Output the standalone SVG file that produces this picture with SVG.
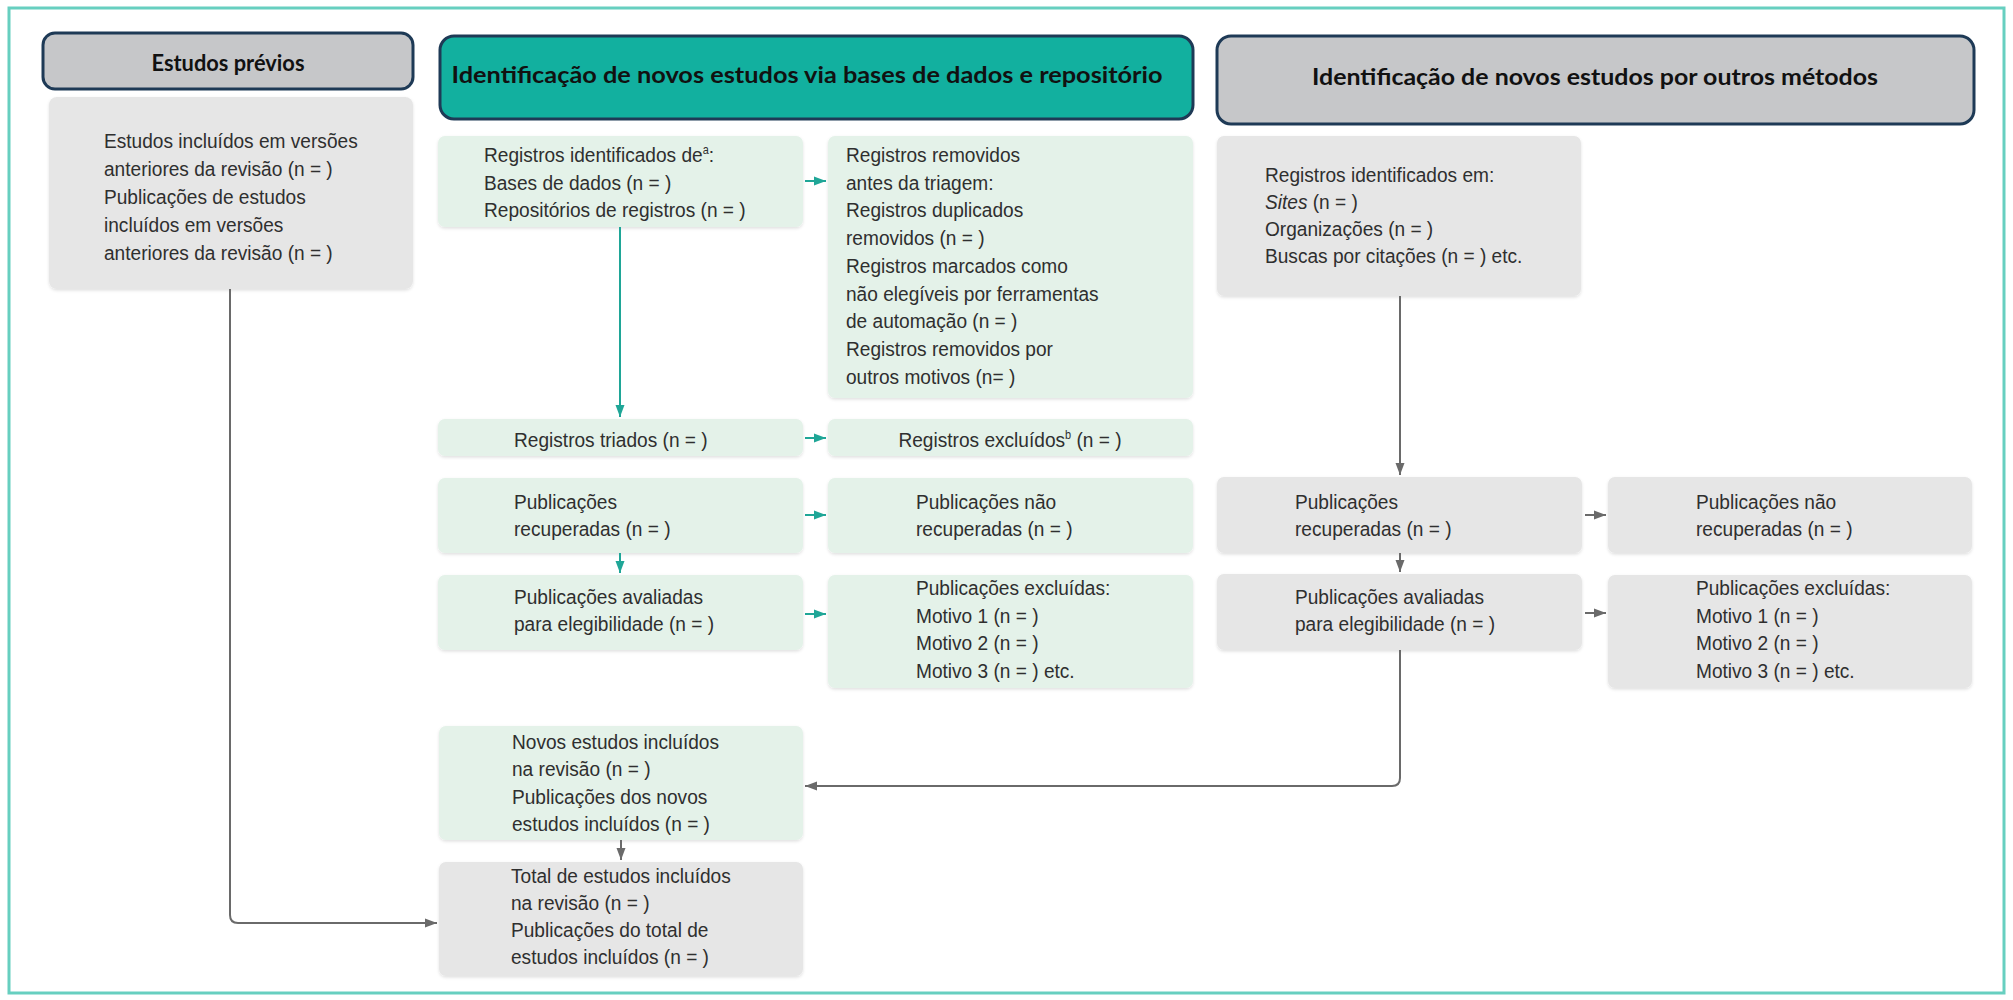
<svg xmlns="http://www.w3.org/2000/svg" width="2013" height="1000" viewBox="0 0 2013 1000">
<style>
.hd{stroke:#1e3a56;stroke-width:3}
.hg{fill:#c6c7c9}
.hc{fill:#12b09f}
.ht{font-family:Lato,"Liberation Sans",sans-serif;font-weight:700;fill:#111;text-anchor:middle}
.bg{fill:#e6e6e6}
.bm{fill:#e4f2e9}
.t{font-family:"Liberation Sans",Arial,sans-serif;font-size:21px;fill:#2f2f2f}
.sup{font-size:12px}
.ct{fill:none;stroke:#1fa697;stroke-width:2}
.cg{fill:none;stroke:#6a6a6a;stroke-width:2}
</style>
<defs>
<filter id="sh" x="-5%" y="-5%" width="110%" height="115%">
<feDropShadow dx="0" dy="1.5" stdDeviation="1.5" flood-color="#000" flood-opacity="0.12"/>
</filter>
<marker id="at" viewBox="0 0 12 10" refX="12" refY="5" markerWidth="12" markerHeight="10" markerUnits="userSpaceOnUse" orient="auto">
<path d="M0,0.5 L12,5 L0,9.5 Z" fill="#1fa697"/>
</marker>
<marker id="ag" viewBox="0 0 12 10" refX="12" refY="5" markerWidth="12" markerHeight="10" markerUnits="userSpaceOnUse" orient="auto">
<path d="M0,0.5 L12,5 L0,9.5 Z" fill="#6a6a6a"/>
</marker>
</defs>
<rect width="2013" height="1000" fill="#fff"/>
<rect x="9" y="8" width="1995" height="985" fill="none" stroke="#67cfc0" stroke-width="3"/>

<g id="header-previos">
<rect class="hd hg" x="43" y="33" width="370" height="56" rx="12"/>
<text class="ht" x="228" y="71" font-size="22" textLength="153" lengthAdjust="spacingAndGlyphs">Estudos prévios</text>
</g>
<g id="header-bases">
<rect class="hd hc" x="440" y="36" width="753" height="83" rx="14"/>
<text class="ht" x="807" y="83" font-size="23" textLength="711" lengthAdjust="spacingAndGlyphs">Identificação de novos estudos via bases de dados e repositório</text>
</g>
<g id="header-outros">
<rect class="hd hg" x="1217" y="36" width="757" height="88" rx="14"/>
<text class="ht" x="1595" y="85" font-size="23" textLength="566" lengthAdjust="spacingAndGlyphs">Identificação de novos estudos por outros métodos</text>
</g>

<g id="node-previos">
<rect class="bg" filter="url(#sh)" x="49" y="97" width="364" height="192" rx="8"/>
<text class="t" transform="translate(104,0) scale(0.91,1)"><tspan x="0" y="148">Estudos incluídos em versões</tspan><tspan x="0" y="176">anteriores da revisão (n = )</tspan><tspan x="0" y="204">Publicações de estudos</tspan><tspan x="0" y="232">incluídos em versões</tspan><tspan x="0" y="260">anteriores da revisão (n = )</tspan></text>
</g>

<g id="node-identificados">
<rect class="bm" filter="url(#sh)" x="438" y="136" width="365" height="91" rx="7"/>
<text class="t" transform="translate(484,0) scale(0.91,1)"><tspan x="0" y="162">Registros identificados de<tspan class="sup" dy="-8">a</tspan><tspan dy="8">:</tspan></tspan><tspan x="0" y="190">Bases de dados (n = )</tspan><tspan x="0" y="217">Repositórios de registros (n = )</tspan></text>
</g>
<g id="node-removidos">
<rect class="bm" filter="url(#sh)" x="828" y="136" width="365" height="262" rx="7"/>
<text class="t" transform="translate(846,0) scale(0.91,1)"><tspan x="0" y="162">Registros removidos</tspan><tspan x="0" y="190">antes da triagem:</tspan><tspan x="0" y="217">Registros duplicados</tspan><tspan x="0" y="245">removidos (n = )</tspan><tspan x="0" y="273">Registros marcados como</tspan><tspan x="0" y="301">não elegíveis por ferramentas</tspan><tspan x="0" y="328">de automação (n = )</tspan><tspan x="0" y="356">Registros removidos por</tspan><tspan x="0" y="384">outros motivos (n= )</tspan></text>
</g>
<g id="node-triados">
<rect class="bm" filter="url(#sh)" x="438" y="419" width="365" height="37" rx="7"/>
<text class="t" transform="translate(514,0) scale(0.91,1)"><tspan x="0" y="447">Registros triados (n = )</tspan></text>
</g>
<g id="node-excluidos">
<rect class="bm" filter="url(#sh)" x="828" y="419" width="365" height="37" rx="7"/>
<text class="t" text-anchor="middle" transform="translate(1010,0) scale(0.91,1)"><tspan x="0" y="447">Registros excluídos<tspan class="sup" dy="-8">b</tspan><tspan dy="8"> (n = )</tspan></tspan></text>
</g>
<g id="node-recuperadas">
<rect class="bm" filter="url(#sh)" x="438" y="478" width="365" height="75" rx="7"/>
<text class="t" transform="translate(514,0) scale(0.91,1)"><tspan x="0" y="509">Publicações</tspan><tspan x="0" y="536">recuperadas (n = )</tspan></text>
</g>
<g id="node-nao-recuperadas">
<rect class="bm" filter="url(#sh)" x="828" y="478" width="365" height="75" rx="7"/>
<text class="t" transform="translate(916,0) scale(0.91,1)"><tspan x="0" y="509">Publicações não</tspan><tspan x="0" y="536">recuperadas (n = )</tspan></text>
</g>
<g id="node-avaliadas">
<rect class="bm" filter="url(#sh)" x="438" y="575" width="365" height="75" rx="7"/>
<text class="t" transform="translate(514,0) scale(0.91,1)"><tspan x="0" y="604">Publicações avaliadas</tspan><tspan x="0" y="631">para elegibilidade (n = )</tspan></text>
</g>
<g id="node-pub-excluidas">
<rect class="bm" filter="url(#sh)" x="828" y="575" width="365" height="113" rx="7"/>
<text class="t" transform="translate(916,0) scale(0.91,1)"><tspan x="0" y="595">Publicações excluídas:</tspan><tspan x="0" y="623">Motivo 1 (n = )</tspan><tspan x="0" y="650">Motivo 2 (n = )</tspan><tspan x="0" y="678">Motivo 3 (n = ) etc.</tspan></text>
</g>
<g id="node-novos">
<rect class="bm" filter="url(#sh)" x="439" y="726" width="364" height="114" rx="7"/>
<text class="t" transform="translate(512,0) scale(0.91,1)"><tspan x="0" y="749">Novos estudos incluídos</tspan><tspan x="0" y="776">na revisão (n = )</tspan><tspan x="0" y="804">Publicações dos novos</tspan><tspan x="0" y="831">estudos incluídos (n = )</tspan></text>
</g>
<g id="node-total">
<rect class="bg" filter="url(#sh)" x="439" y="862" width="364" height="114" rx="7"/>
<text class="t" transform="translate(511,0) scale(0.91,1)"><tspan x="0" y="883">Total de estudos incluídos</tspan><tspan x="0" y="910">na revisão (n = )</tspan><tspan x="0" y="937">Publicações do total de</tspan><tspan x="0" y="964">estudos incluídos (n = )</tspan></text>
</g>

<g id="node-outros-identificados">
<rect class="bg" filter="url(#sh)" x="1217" y="136" width="364" height="160" rx="7"/>
<text class="t" transform="translate(1265,0) scale(0.91,1)"><tspan x="0" y="182">Registros identificados em:</tspan><tspan x="0" y="209"><tspan font-style="italic">Sites</tspan> (n = )</tspan><tspan x="0" y="236">Organizações (n = )</tspan><tspan x="0" y="263">Buscas por citações (n = ) etc.</tspan></text>
</g>
<g id="node-outros-recuperadas">
<rect class="bg" filter="url(#sh)" x="1217" y="477" width="365" height="76" rx="7"/>
<text class="t" transform="translate(1295,0) scale(0.91,1)"><tspan x="0" y="509">Publicações</tspan><tspan x="0" y="536">recuperadas (n = )</tspan></text>
</g>
<g id="node-outros-nao-recuperadas">
<rect class="bg" filter="url(#sh)" x="1608" y="477" width="364" height="76" rx="7"/>
<text class="t" transform="translate(1696,0) scale(0.91,1)"><tspan x="0" y="509">Publicações não</tspan><tspan x="0" y="536">recuperadas (n = )</tspan></text>
</g>
<g id="node-outros-avaliadas">
<rect class="bg" filter="url(#sh)" x="1217" y="574" width="365" height="76" rx="7"/>
<text class="t" transform="translate(1295,0) scale(0.91,1)"><tspan x="0" y="604">Publicações avaliadas</tspan><tspan x="0" y="631">para elegibilidade (n = )</tspan></text>
</g>
<g id="node-outros-excluidas">
<rect class="bg" filter="url(#sh)" x="1608" y="575" width="364" height="113" rx="7"/>
<text class="t" transform="translate(1696,0) scale(0.91,1)"><tspan x="0" y="595">Publicações excluídas:</tspan><tspan x="0" y="623">Motivo 1 (n = )</tspan><tspan x="0" y="650">Motivo 2 (n = )</tspan><tspan x="0" y="678">Motivo 3 (n = ) etc.</tspan></text>
</g>

<g id="connectors">
<path class="ct" d="M620,227 V417" marker-end="url(#at)"/>
<path class="ct" d="M805,181 H826" marker-end="url(#at)"/>
<path class="ct" d="M805,438 H826" marker-end="url(#at)"/>
<path class="ct" d="M805,515 H826" marker-end="url(#at)"/>
<path class="ct" d="M805,614 H826" marker-end="url(#at)"/>
<path class="ct" d="M620,553 V573" marker-end="url(#at)"/>
<path class="cg" d="M1400,296 V475" marker-end="url(#ag)"/>
<path class="cg" d="M1400,553 V572" marker-end="url(#ag)"/>
<path class="cg" d="M1585,515 H1606" marker-end="url(#ag)"/>
<path class="cg" d="M1585,613 H1606" marker-end="url(#ag)"/>
<path class="cg" d="M1400,650 V778 Q1400,786 1392,786 H805" marker-end="url(#ag)"/>
<path class="cg" d="M621,840 V860" marker-end="url(#ag)"/>
<path class="cg" d="M230,289 V915 Q230,923 238,923 H437" marker-end="url(#ag)"/>
</g>
</svg>
